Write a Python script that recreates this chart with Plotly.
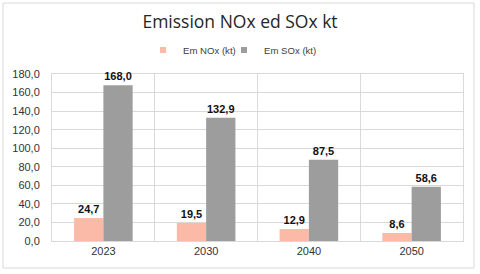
import plotly.graph_objects as go

years = ["2023", "2030", "2040", "2050"]
nox = [24.7, 19.5, 12.9, 8.6]
sox = [168.0, 132.9, 87.5, 58.6]
y_ticks = [0, 20, 40, 60, 80, 100, 120, 140, 160, 180]
names = ["Em NOx (kt)", "Em SOx (kt)"]
colors = ["#fbb9a8", "#9d9d9d"]
legend_ids = ["legend", "legend2"]

fig = go.Figure()
for vals, name, col in zip([nox, sox], names, colors):
    fig.add_trace(go.Bar(
        x=years, y=vals, name=name, showlegend=False,
        marker=dict(color=col, line=dict(width=0)),
        texttemplate="<b>%{y:.1f}</b>", textposition="outside",
        textfont=dict(family="Liberation Sans", size=11, color="#111111"),
        cliponaxis=False,
    ))
# legend proxies (small square swatches as in the original)
for name, col, lg in zip(names, colors, legend_ids):
    fig.add_trace(go.Scatter(
        x=[None], y=[None], mode="markers", name=name, legend=lg,
        marker=dict(symbol="square", size=6, color=col),
    ))

leg_common = dict(orientation="h", xanchor="left", y=1.144, yanchor="middle",
                  font=dict(family="Liberation Sans", size=9.6, color="#404040"),
                  itemwidth=30, bgcolor="rgba(0,0,0,0)", borderwidth=0)

fig.update_layout(
    width=480, height=274,
    margin=dict(l=52, r=17, t=74, b=33),
    paper_bgcolor="white", plot_bgcolor="white",
    separators=",.",
    barmode="group", bargap=0.43, bargroupgap=0,
    title=dict(text="Emission NOx ed SOx kt", x=0.5, xanchor="center",
               y=1 - 22 / 274, yanchor="middle",
               font=dict(family="Open Sans", size=17.5, color="#262626")),
    legend=dict(x=(143 - 52) / 411, **leg_common),
    legend2=dict(x=(224 - 52) / 411, **leg_common),
    showlegend=True,
    xaxis=dict(type="category", tickson="boundaries", showgrid=True, gridcolor="#d9d9d9",
               gridwidth=1, ticks="", showline=True, linecolor="#d9d9d9", mirror=True,
               layer="below traces",
               tickfont=dict(family="Liberation Sans", size=11, color="#333333")),
    yaxis=dict(range=[0, 180], tickvals=y_ticks, tickformat=".1f", showgrid=True,
               gridcolor="#d9d9d9", gridwidth=1, zeroline=False, ticks="",
               ticklabelstandoff=9, layer="below traces",
               showline=True, linecolor="#d9d9d9", mirror=True,
               tickfont=dict(family="Liberation Sans", size=11, color="#333333")),
    shapes=[dict(type="rect", xref="paper", yref="paper",
                 x0=(3 - 52) / 411, x1=(474 - 52) / 411,
                 y0=(241 - 268) / 167, y1=(241 - 3) / 167,
                 line=dict(color="#d9d9d9", width=1), fillcolor="rgba(0,0,0,0)",
                 layer="below")],
)

fig.write_html("out.html", config={"displayModeBar": False},
               post_script="document.body.style.margin='0';")
